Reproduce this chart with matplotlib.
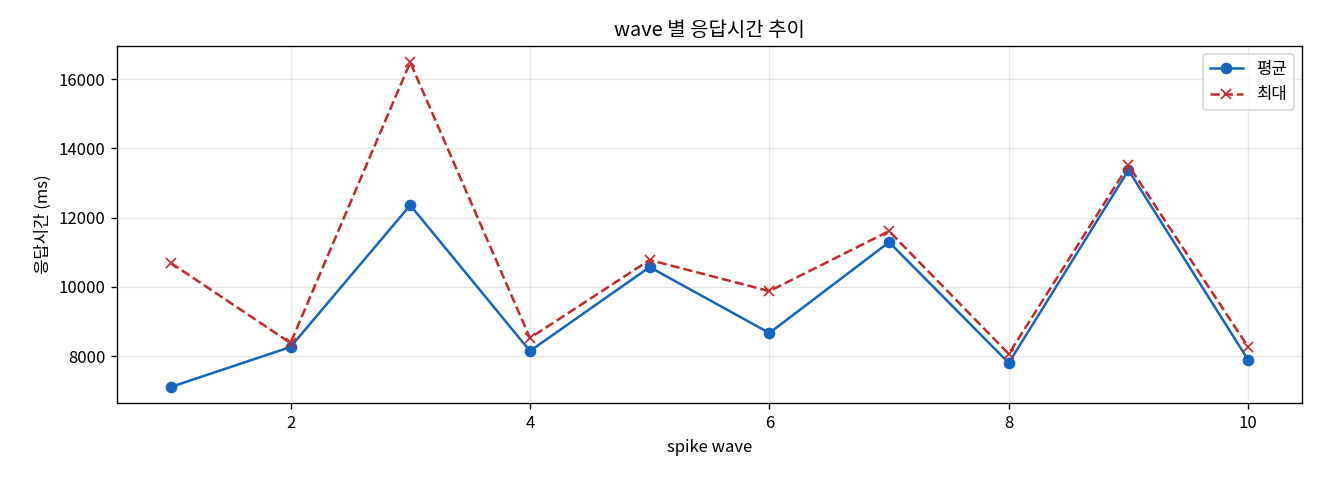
import matplotlib
matplotlib.use("Agg")
import matplotlib.pyplot as plt

plt.rcParams['font.family'] = ['Noto Sans CJK KR', 'DejaVu Sans']

waves = [1, 2, 3, 4, 5, 6, 7, 8, 9, 10]
avg_ms = [7105, 8260, 12360, 8145, 10570, 8665, 11290, 7800, 13370, 7885]
max_ms = [10690, 8375, 16490, 8520, 10775, 9875, 11610, 8060, 13515, 8260]

fig, ax = plt.subplots(figsize=(11, 4), dpi=120)

ax.plot(waves, avg_ms, marker='o', color='#1565C0', label='평균')
ax.plot(waves, max_ms, marker='x', linestyle='--', color='#C62828', label='최대')

ax.set_title('wave 별 응답시간 추이')
ax.set_xlabel('spike wave')
ax.set_ylabel('응답시간 (ms)')
ax.grid(True, alpha=0.3)
ax.legend()

fig.subplots_adjust(left=0.0886, right=0.9864, top=0.904, bottom=0.160)
fig.savefig('out.png')
